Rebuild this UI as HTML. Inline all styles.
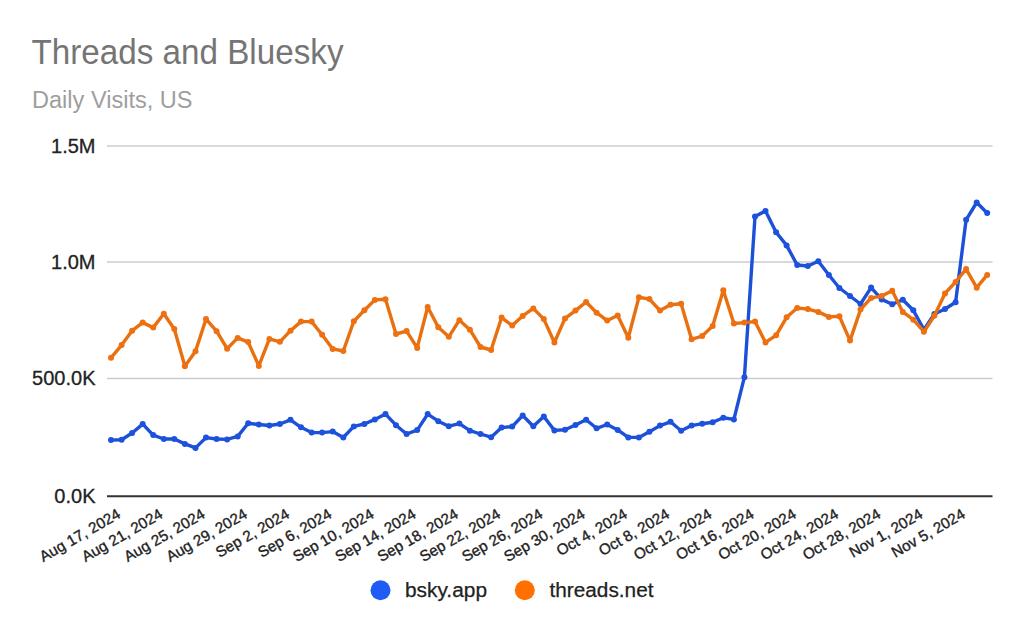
<!DOCTYPE html>
<html><head><meta charset="utf-8"><style>
html,body{margin:0;padding:0;background:#fff;}
body{width:1024px;height:634px;overflow:hidden;}
svg{display:block;font-family:"Liberation Sans",sans-serif;}
</style></head><body>
<svg width="1024" height="634" viewBox="0 0 1024 634">
<rect width="1024" height="634" fill="#fff"/>
<text x="31.5" y="64" font-size="35.3" fill="#757575" textLength="312" lengthAdjust="spacingAndGlyphs">Threads and Bluesky</text>
<text x="32" y="107.5" font-size="23.5" fill="#9e9e9e" textLength="160.5" lengthAdjust="spacingAndGlyphs">Daily Visits, US</text>
<g stroke="#cccccc" stroke-width="1.5">
<line x1="107" y1="146" x2="992.5" y2="146"/>
<line x1="107" y1="262.1" x2="992.5" y2="262.1"/>
<line x1="107" y1="378.4" x2="992.5" y2="378.4"/>
</g>
<line x1="107" y1="496.2" x2="992.5" y2="496.2" stroke="#333333" stroke-width="2"/>
<g font-size="20" fill="#222" stroke="#222" stroke-width="0.3" text-anchor="end">
<text x="95.5" y="152.8">1.5M</text>
<text x="95.5" y="268.90000000000003">1.0M</text>
<text x="95.5" y="385.2">500.0K</text>
<text x="95.5" y="503.0">0.0K</text>
</g>
<g font-size="15.2" fill="#222" stroke="#222" stroke-width="0.35"><text transform="translate(121.6,517.1) rotate(-30)" text-anchor="end">Aug 17, 2024</text><text transform="translate(163.8,517.1) rotate(-30)" text-anchor="end">Aug 21, 2024</text><text transform="translate(206.1,517.1) rotate(-30)" text-anchor="end">Aug 25, 2024</text><text transform="translate(248.3,517.1) rotate(-30)" text-anchor="end">Aug 29, 2024</text><text transform="translate(290.5,517.1) rotate(-30)" text-anchor="end">Sep 2, 2024</text><text transform="translate(332.7,517.1) rotate(-30)" text-anchor="end">Sep 6, 2024</text><text transform="translate(375.0,517.1) rotate(-30)" text-anchor="end">Sep 10, 2024</text><text transform="translate(417.2,517.1) rotate(-30)" text-anchor="end">Sep 14, 2024</text><text transform="translate(459.4,517.1) rotate(-30)" text-anchor="end">Sep 18, 2024</text><text transform="translate(501.7,517.1) rotate(-30)" text-anchor="end">Sep 22, 2024</text><text transform="translate(543.9,517.1) rotate(-30)" text-anchor="end">Sep 26, 2024</text><text transform="translate(586.1,517.1) rotate(-30)" text-anchor="end">Sep 30, 2024</text><text transform="translate(628.3,517.1) rotate(-30)" text-anchor="end">Oct 4, 2024</text><text transform="translate(670.6,517.1) rotate(-30)" text-anchor="end">Oct 8, 2024</text><text transform="translate(712.8,517.1) rotate(-30)" text-anchor="end">Oct 12, 2024</text><text transform="translate(755.0,517.1) rotate(-30)" text-anchor="end">Oct 16, 2024</text><text transform="translate(797.2,517.1) rotate(-30)" text-anchor="end">Oct 20, 2024</text><text transform="translate(839.5,517.1) rotate(-30)" text-anchor="end">Oct 24, 2024</text><text transform="translate(881.7,517.1) rotate(-30)" text-anchor="end">Oct 28, 2024</text><text transform="translate(923.9,517.1) rotate(-30)" text-anchor="end">Nov 1, 2024</text><text transform="translate(966.2,517.1) rotate(-30)" text-anchor="end">Nov 5, 2024</text></g>
<path d="M111.0,440.1 L121.6,439.7 L132.1,433.0 L142.7,424.1 L153.2,435.1 L163.8,439.0 L174.3,439.0 L184.9,443.9 L195.5,447.9 L206.0,437.6 L216.6,439.0 L227.1,439.4 L237.7,436.4 L248.2,423.3 L258.8,424.5 L269.4,425.5 L279.9,424.0 L290.5,419.8 L301.0,427.3 L311.6,432.6 L322.1,432.6 L332.7,431.6 L343.3,437.5 L353.8,426.4 L364.4,424.0 L374.9,419.4 L385.5,414.1 L396.0,425.2 L406.6,434.0 L417.2,430.1 L427.7,414.1 L438.3,421.2 L448.8,426.2 L459.4,423.6 L469.9,430.7 L480.5,434.0 L491.1,437.2 L501.6,427.6 L512.2,426.6 L522.7,415.5 L533.3,426.2 L543.8,416.5 L554.4,430.4 L565.0,429.7 L575.5,425.0 L586.1,419.8 L596.6,428.3 L607.2,424.5 L617.7,429.9 L628.3,437.4 L638.9,437.4 L649.4,431.7 L660.0,425.6 L670.5,421.8 L681.1,430.8 L691.6,425.6 L702.2,423.7 L712.7,422.2 L723.3,417.7 L733.9,419.4 L744.4,377.2 L755.0,216.6 L765.5,210.9 L776.1,232.2 L786.6,245.4 L797.2,265.0 L807.8,266.0 L818.3,261.3 L828.9,275.0 L839.4,288.0 L850.0,296.0 L860.5,304.0 L871.1,287.6 L881.7,299.4 L892.2,304.2 L902.8,299.8 L913.3,310.2 L923.9,329.6 L934.4,314.0 L945.0,309.0 L955.6,302.2 L966.1,219.8 L976.7,202.5 L987.2,213.0" fill="none" stroke="#1c50d8" stroke-width="3.4" stroke-linejoin="round" stroke-linecap="round"/>
<g fill="#1d52de"><circle cx="111.0" cy="440.1" r="3"/><circle cx="121.6" cy="439.7" r="3"/><circle cx="132.1" cy="433.0" r="3"/><circle cx="142.7" cy="424.1" r="3"/><circle cx="153.2" cy="435.1" r="3"/><circle cx="163.8" cy="439.0" r="3"/><circle cx="174.3" cy="439.0" r="3"/><circle cx="184.9" cy="443.9" r="3"/><circle cx="195.5" cy="447.9" r="3"/><circle cx="206.0" cy="437.6" r="3"/><circle cx="216.6" cy="439.0" r="3"/><circle cx="227.1" cy="439.4" r="3"/><circle cx="237.7" cy="436.4" r="3"/><circle cx="248.2" cy="423.3" r="3"/><circle cx="258.8" cy="424.5" r="3"/><circle cx="269.4" cy="425.5" r="3"/><circle cx="279.9" cy="424.0" r="3"/><circle cx="290.5" cy="419.8" r="3"/><circle cx="301.0" cy="427.3" r="3"/><circle cx="311.6" cy="432.6" r="3"/><circle cx="322.1" cy="432.6" r="3"/><circle cx="332.7" cy="431.6" r="3"/><circle cx="343.3" cy="437.5" r="3"/><circle cx="353.8" cy="426.4" r="3"/><circle cx="364.4" cy="424.0" r="3"/><circle cx="374.9" cy="419.4" r="3"/><circle cx="385.5" cy="414.1" r="3"/><circle cx="396.0" cy="425.2" r="3"/><circle cx="406.6" cy="434.0" r="3"/><circle cx="417.2" cy="430.1" r="3"/><circle cx="427.7" cy="414.1" r="3"/><circle cx="438.3" cy="421.2" r="3"/><circle cx="448.8" cy="426.2" r="3"/><circle cx="459.4" cy="423.6" r="3"/><circle cx="469.9" cy="430.7" r="3"/><circle cx="480.5" cy="434.0" r="3"/><circle cx="491.1" cy="437.2" r="3"/><circle cx="501.6" cy="427.6" r="3"/><circle cx="512.2" cy="426.6" r="3"/><circle cx="522.7" cy="415.5" r="3"/><circle cx="533.3" cy="426.2" r="3"/><circle cx="543.8" cy="416.5" r="3"/><circle cx="554.4" cy="430.4" r="3"/><circle cx="565.0" cy="429.7" r="3"/><circle cx="575.5" cy="425.0" r="3"/><circle cx="586.1" cy="419.8" r="3"/><circle cx="596.6" cy="428.3" r="3"/><circle cx="607.2" cy="424.5" r="3"/><circle cx="617.7" cy="429.9" r="3"/><circle cx="628.3" cy="437.4" r="3"/><circle cx="638.9" cy="437.4" r="3"/><circle cx="649.4" cy="431.7" r="3"/><circle cx="660.0" cy="425.6" r="3"/><circle cx="670.5" cy="421.8" r="3"/><circle cx="681.1" cy="430.8" r="3"/><circle cx="691.6" cy="425.6" r="3"/><circle cx="702.2" cy="423.7" r="3"/><circle cx="712.7" cy="422.2" r="3"/><circle cx="723.3" cy="417.7" r="3"/><circle cx="733.9" cy="419.4" r="3"/><circle cx="744.4" cy="377.2" r="3"/><circle cx="755.0" cy="216.6" r="3"/><circle cx="765.5" cy="210.9" r="3"/><circle cx="776.1" cy="232.2" r="3"/><circle cx="786.6" cy="245.4" r="3"/><circle cx="797.2" cy="265.0" r="3"/><circle cx="807.8" cy="266.0" r="3"/><circle cx="818.3" cy="261.3" r="3"/><circle cx="828.9" cy="275.0" r="3"/><circle cx="839.4" cy="288.0" r="3"/><circle cx="850.0" cy="296.0" r="3"/><circle cx="860.5" cy="304.0" r="3"/><circle cx="871.1" cy="287.6" r="3"/><circle cx="881.7" cy="299.4" r="3"/><circle cx="892.2" cy="304.2" r="3"/><circle cx="902.8" cy="299.8" r="3"/><circle cx="913.3" cy="310.2" r="3"/><circle cx="923.9" cy="329.6" r="3"/><circle cx="934.4" cy="314.0" r="3"/><circle cx="945.0" cy="309.0" r="3"/><circle cx="955.6" cy="302.2" r="3"/><circle cx="966.1" cy="219.8" r="3"/><circle cx="976.7" cy="202.5" r="3"/><circle cx="987.2" cy="213.0" r="3"/></g>
<path d="M111.0,357.8 L121.6,345.1 L132.1,330.7 L142.7,322.6 L153.2,327.6 L163.8,313.8 L174.3,329.0 L184.9,366.2 L195.5,351.3 L206.0,319.1 L216.6,331.2 L227.1,348.7 L237.7,337.9 L248.2,342.1 L258.8,365.9 L269.4,338.9 L279.9,341.8 L290.5,330.7 L301.0,321.6 L311.6,321.6 L322.1,334.7 L332.7,348.9 L343.3,351.0 L353.8,321.2 L364.4,310.3 L374.9,299.9 L385.5,299.2 L396.0,334.0 L406.6,331.1 L417.2,347.9 L427.7,307.0 L438.3,327.3 L448.8,336.8 L459.4,320.2 L469.9,329.7 L480.5,347.0 L491.1,350.0 L501.6,317.6 L512.2,325.5 L522.7,315.9 L533.3,308.4 L543.8,319.1 L554.4,342.5 L565.0,318.4 L575.5,310.6 L586.1,302.0 L596.6,312.7 L607.2,320.6 L617.7,315.4 L628.3,337.8 L638.9,297.3 L649.4,299.1 L660.0,310.5 L670.5,304.8 L681.1,303.8 L691.6,339.3 L702.2,336.0 L712.7,326.1 L723.3,290.2 L733.9,323.5 L744.4,322.6 L755.0,321.6 L765.5,342.4 L776.1,335.3 L786.6,317.3 L797.2,308.0 L807.8,309.1 L818.3,311.9 L828.9,316.9 L839.4,316.2 L850.0,340.6 L860.5,309.6 L871.1,297.9 L881.7,296.1 L892.2,290.8 L902.8,311.9 L913.3,319.7 L923.9,331.7 L934.4,315.8 L945.0,293.4 L955.6,282.0 L966.1,269.1 L976.7,287.7 L987.2,274.9" fill="none" stroke="#e8700f" stroke-width="3.4" stroke-linejoin="round" stroke-linecap="round"/>
<g fill="#ef7010"><circle cx="111.0" cy="357.8" r="3"/><circle cx="121.6" cy="345.1" r="3"/><circle cx="132.1" cy="330.7" r="3"/><circle cx="142.7" cy="322.6" r="3"/><circle cx="153.2" cy="327.6" r="3"/><circle cx="163.8" cy="313.8" r="3"/><circle cx="174.3" cy="329.0" r="3"/><circle cx="184.9" cy="366.2" r="3"/><circle cx="195.5" cy="351.3" r="3"/><circle cx="206.0" cy="319.1" r="3"/><circle cx="216.6" cy="331.2" r="3"/><circle cx="227.1" cy="348.7" r="3"/><circle cx="237.7" cy="337.9" r="3"/><circle cx="248.2" cy="342.1" r="3"/><circle cx="258.8" cy="365.9" r="3"/><circle cx="269.4" cy="338.9" r="3"/><circle cx="279.9" cy="341.8" r="3"/><circle cx="290.5" cy="330.7" r="3"/><circle cx="301.0" cy="321.6" r="3"/><circle cx="311.6" cy="321.6" r="3"/><circle cx="322.1" cy="334.7" r="3"/><circle cx="332.7" cy="348.9" r="3"/><circle cx="343.3" cy="351.0" r="3"/><circle cx="353.8" cy="321.2" r="3"/><circle cx="364.4" cy="310.3" r="3"/><circle cx="374.9" cy="299.9" r="3"/><circle cx="385.5" cy="299.2" r="3"/><circle cx="396.0" cy="334.0" r="3"/><circle cx="406.6" cy="331.1" r="3"/><circle cx="417.2" cy="347.9" r="3"/><circle cx="427.7" cy="307.0" r="3"/><circle cx="438.3" cy="327.3" r="3"/><circle cx="448.8" cy="336.8" r="3"/><circle cx="459.4" cy="320.2" r="3"/><circle cx="469.9" cy="329.7" r="3"/><circle cx="480.5" cy="347.0" r="3"/><circle cx="491.1" cy="350.0" r="3"/><circle cx="501.6" cy="317.6" r="3"/><circle cx="512.2" cy="325.5" r="3"/><circle cx="522.7" cy="315.9" r="3"/><circle cx="533.3" cy="308.4" r="3"/><circle cx="543.8" cy="319.1" r="3"/><circle cx="554.4" cy="342.5" r="3"/><circle cx="565.0" cy="318.4" r="3"/><circle cx="575.5" cy="310.6" r="3"/><circle cx="586.1" cy="302.0" r="3"/><circle cx="596.6" cy="312.7" r="3"/><circle cx="607.2" cy="320.6" r="3"/><circle cx="617.7" cy="315.4" r="3"/><circle cx="628.3" cy="337.8" r="3"/><circle cx="638.9" cy="297.3" r="3"/><circle cx="649.4" cy="299.1" r="3"/><circle cx="660.0" cy="310.5" r="3"/><circle cx="670.5" cy="304.8" r="3"/><circle cx="681.1" cy="303.8" r="3"/><circle cx="691.6" cy="339.3" r="3"/><circle cx="702.2" cy="336.0" r="3"/><circle cx="712.7" cy="326.1" r="3"/><circle cx="723.3" cy="290.2" r="3"/><circle cx="733.9" cy="323.5" r="3"/><circle cx="744.4" cy="322.6" r="3"/><circle cx="755.0" cy="321.6" r="3"/><circle cx="765.5" cy="342.4" r="3"/><circle cx="776.1" cy="335.3" r="3"/><circle cx="786.6" cy="317.3" r="3"/><circle cx="797.2" cy="308.0" r="3"/><circle cx="807.8" cy="309.1" r="3"/><circle cx="818.3" cy="311.9" r="3"/><circle cx="828.9" cy="316.9" r="3"/><circle cx="839.4" cy="316.2" r="3"/><circle cx="850.0" cy="340.6" r="3"/><circle cx="860.5" cy="309.6" r="3"/><circle cx="871.1" cy="297.9" r="3"/><circle cx="881.7" cy="296.1" r="3"/><circle cx="892.2" cy="290.8" r="3"/><circle cx="902.8" cy="311.9" r="3"/><circle cx="913.3" cy="319.7" r="3"/><circle cx="923.9" cy="331.7" r="3"/><circle cx="934.4" cy="315.8" r="3"/><circle cx="945.0" cy="293.4" r="3"/><circle cx="955.6" cy="282.0" r="3"/><circle cx="966.1" cy="269.1" r="3"/><circle cx="976.7" cy="287.7" r="3"/><circle cx="987.2" cy="274.9" r="3"/></g>
<circle cx="380.5" cy="590.3" r="10" fill="#1f5cf5"/>
<circle cx="524.8" cy="590.3" r="10" fill="#ff7000"/>
<g font-size="20" fill="#222" stroke="#222" stroke-width="0.25">
<text x="405" y="596.5" textLength="82" lengthAdjust="spacingAndGlyphs">bsky.app</text>
<text x="549.5" y="596.5" textLength="104" lengthAdjust="spacingAndGlyphs">threads.net</text>
</g>
</svg>
</body></html>
